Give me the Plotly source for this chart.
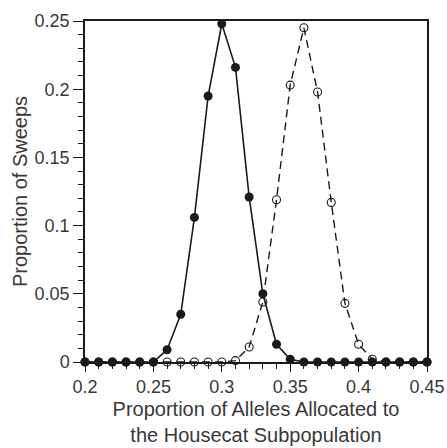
import plotly.graph_objects as go

x_vals = [0.20, 0.21, 0.22, 0.23, 0.24, 0.25, 0.26, 0.27, 0.28, 0.29, 0.30, 0.31, 0.32,
          0.33, 0.34, 0.35, 0.36, 0.37, 0.38, 0.39, 0.40, 0.41, 0.42, 0.43, 0.44, 0.45]
solid_vals = [0, 0, 0, 0, 0, 0, 0.009, 0.035, 0.106, 0.195, 0.248, 0.216, 0.121,
              0.050, 0.013, 0.002, 0, 0, 0, 0, 0, 0, 0, 0, 0, 0]
dashed_vals = [0, 0, 0, 0, 0, 0, 0, 0, 0, 0, 0, 0.001, 0.011,
               0.044, 0.119, 0.203, 0.245, 0.198, 0.117, 0.043, 0.013, 0.002, 0, 0, 0, 0]
x_ticks = [0.2, 0.25, 0.3, 0.35, 0.4, 0.45]
x_tick_text = ["0.2", "0.25", "0.3", "0.35", "0.4", "0.45"]
y_ticks = [0, 0.05, 0.1, 0.15, 0.2, 0.25]
y_tick_text = ["0", "0.05", "0.1", "0.15", "0.2", "0.25"]

ink = "#1a1a1a"
txt = "#383838"
font_family = "Liberation Sans, Arial, Helvetica, sans-serif"

fig = go.Figure()
fig.add_trace(go.Scatter(
    x=x_vals, y=dashed_vals, mode="lines+markers",
    line=dict(color=ink, width=1.4, dash="8px,5px"),
    marker=dict(symbol="circle-open", size=8, color=ink, line=dict(width=1.1, color=ink)),
    cliponaxis=False, showlegend=False))
fig.add_trace(go.Scatter(
    x=x_vals, y=solid_vals, mode="lines+markers",
    line=dict(color=ink, width=1.6),
    marker=dict(symbol="circle", size=9, color=ink),
    cliponaxis=False, showlegend=False))

fig.update_layout(
    width=447, height=448,
    margin=dict(l=85, r=20, t=21, b=86, autoexpand=False),
    paper_bgcolor="white", plot_bgcolor="white",
    font=dict(family=font_family, size=18, color=txt),
)
fig.update_xaxes(
    automargin=False,
    range=[0.2, 0.45], tickvals=x_ticks, ticktext=x_tick_text,
    ticks="outside", ticklen=8, tickwidth=1.2, tickcolor=ink,
    minor=dict(dtick=0.01, tick0=0.2, ticks="outside", ticklen=5, tickwidth=1, tickcolor=ink),
    showline=True, linecolor=ink, linewidth=1.5, mirror=True,
    showgrid=False, zeroline=False,
    title=dict(text="Proportion of Alleles Allocated to<br>the Housecat Subpopulation",
               font=dict(size=20, color=txt), standoff=6),
    tickfont=dict(size=18, color=txt),
)
fig.update_yaxes(
    automargin=False,
    range=[0, 0.25], tickvals=y_ticks, ticktext=y_tick_text,
    ticks="outside", ticklen=10, tickwidth=1.2, tickcolor=ink,
    minor=dict(dtick=0.01, tick0=0, ticks="outside", ticklen=5, tickwidth=1, tickcolor=ink),
    showline=True, linecolor=ink, linewidth=1.5, mirror=True,
    showgrid=False, zeroline=False,
    title=dict(text="Proportion of Sweeps", font=dict(size=20, color=txt), standoff=2),
    tickfont=dict(size=18, color=txt),
)

fig.write_html("out.html")
